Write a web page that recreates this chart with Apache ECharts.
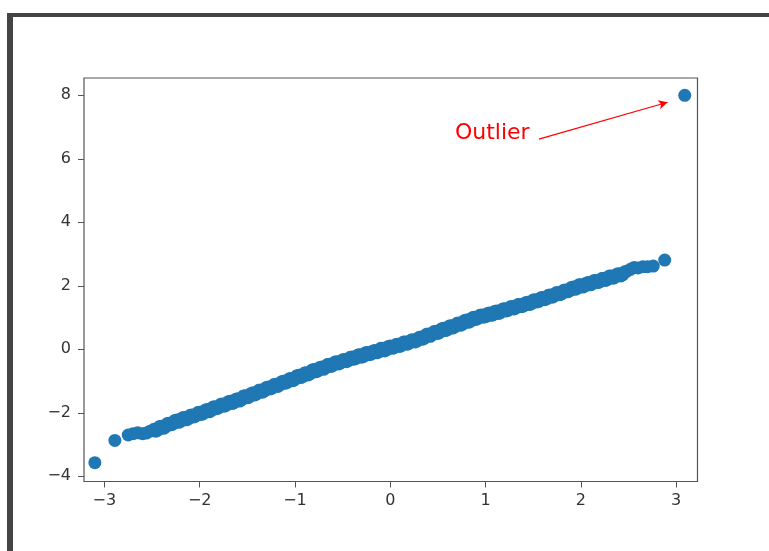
<!DOCTYPE html>
<html>
<head>
<meta charset="utf-8">
<script src="https://cdn.jsdelivr.net/npm/echarts@6/dist/echarts.min.js"></script>
<style>
html,body{margin:0;padding:0;background:#fff;}
#chart{width:769px;height:551px;}
</style>
</head>
<body>
<div id="chart"></div>
<script>
// Theoretical quantiles (x)
var theoretical = [
  -3.10,-2.89,-2.75,-2.70,-2.65,-2.60,-2.56,-2.52,
  -2.48,-2.44,-2.40,-2.36,-2.32,-2.28,-2.24,-2.20,-2.16,-2.12,
  -2.08,-2.04,-2.00,-1.96,-1.92,-1.88,-1.84,-1.80,-1.76,-1.72,
  -1.68,-1.64,-1.60,-1.56,-1.52,-1.48,-1.44,-1.40,-1.36,-1.32,
  -1.28,-1.24,-1.20,-1.16,-1.12,-1.08,-1.04,-1.00,-0.96,-0.92,
  -0.88,-0.84,-0.80,-0.76,-0.72,-0.68,-0.64,-0.60,-0.56,-0.52,
  -0.48,-0.44,-0.40,-0.36,-0.32,-0.28,-0.24,-0.20,-0.16,-0.12,
  -0.08,-0.04,
  0.00,0.04,0.08,0.12,0.16,0.20,0.24,0.28,0.32,0.36,
  0.40,0.44,0.48,0.52,0.56,0.60,0.64,0.68,0.72,0.76,
  0.80,0.84,0.88,0.92,0.96,1.00,1.04,1.08,1.12,1.16,
  1.20,1.24,1.28,1.32,1.36,1.40,1.44,1.48,1.52,1.56,
  1.60,1.64,1.68,1.72,1.76,1.80,1.84,1.88,1.92,1.96,
  2.00,2.04,2.08,2.12,2.16,2.20,2.24,2.28,2.32,2.36,
  2.40,2.44,2.48,
  2.52,2.56,2.60,2.65,2.70,2.76,2.88,3.09
];
// Sample values (y)
var sample = [
  -3.57,-2.87,-2.70,-2.66,-2.63,-2.66,-2.64,-2.58,
  -2.52,-2.55,-2.42,-2.45,-2.33,-2.35,-2.23,-2.27,-2.15,-2.19,
  -2.07,-2.10,-1.98,-2.02,-1.90,-1.93,-1.81,-1.84,-1.72,-1.76,
  -1.64,-1.68,-1.56,-1.59,-1.46,-1.50,-1.37,-1.40,-1.28,-1.31,
  -1.19,-1.22,-1.10,-1.13,-1.01,-1.04,-0.92,-0.95,-0.82,-0.86,
  -0.74,-0.77,-0.64,-0.68,-0.56,-0.59,-0.47,-0.51,-0.39,-0.43,
  -0.32,-0.36,-0.24,-0.29,-0.17,-0.22,-0.10,-0.15,-0.04,-0.08,
  0.03,-0.02,
  0.10,0.05,0.16,0.12,0.23,0.19,0.30,0.26,0.39,0.35,
  0.48,0.45,0.57,0.53,0.66,0.62,0.74,0.71,0.83,0.79,
  0.92,0.88,1.01,0.97,1.08,1.03,1.14,1.09,1.21,1.16,
  1.28,1.23,1.35,1.30,1.41,1.37,1.48,1.44,1.56,1.51,
  1.63,1.59,1.71,1.67,1.79,1.75,1.87,1.84,1.96,1.92,
  2.03,1.99,2.10,2.06,2.17,2.13,2.24,2.20,2.31,2.27,
  2.38,2.35,2.45,
  2.52,2.58,2.56,2.60,2.60,2.62,2.81,8.00
];
// Further points of the dense band (x, y)
var theoreticalFill = [
  -2.46,-2.42,-2.38,-2.34,-2.30,-2.26,-2.22,-2.18,-2.14,-2.10,
  -2.06,-2.02,-1.98,-1.94,-1.90,-1.86,-1.82,-1.78,-1.74,-1.70,
  -1.66,-1.62,-1.58,-1.54,-1.50,-1.46,-1.42,-1.38,-1.34,-1.30,
  -1.26,-1.22,-1.18,-1.14,-1.10,-1.06,-1.02,-0.98,-0.94,-0.90,
  -0.86,-0.82,-0.78,-0.74,-0.70,-0.66,-0.62,-0.58,-0.54,-0.50,
  -0.46,-0.42,-0.38,-0.34,-0.30,-0.26,-0.22,-0.18,-0.14,-0.10,
  -0.06,-0.02,
  0.02,0.06,0.10,0.14,0.18,0.22,0.26,0.30,0.34,0.38,
  0.42,0.46,0.50,0.54,0.58,0.62,0.66,0.70,0.74,0.78,
  0.82,0.86,0.90,0.94,0.98,1.02,1.06,1.10,1.14,1.18,
  1.22,1.26,1.30,1.34,1.38,1.42,1.46,1.50,1.54,1.58,
  1.62,1.66,1.70,1.74,1.78,1.82,1.86,1.90,1.94,1.98,
  2.02,2.06,2.10,2.14,2.18,2.22,2.26,2.30,2.34,2.38,
  2.42,2.46
];
var sampleFill = [
  -2.58,-2.43,-2.49,-2.34,-2.38,-2.24,-2.30,-2.16,-2.22,-2.08,
  -2.13,-1.99,-2.05,-1.91,-1.97,-1.82,-1.87,-1.73,-1.79,-1.65,
  -1.71,-1.57,-1.63,-1.47,-1.53,-1.39,-1.44,-1.29,-1.35,-1.20,
  -1.25,-1.11,-1.17,-1.02,-1.07,-0.93,-0.99,-0.83,-0.89,-0.75,
  -0.81,-0.65,-0.71,-0.57,-0.63,-0.48,-0.54,-0.40,-0.46,-0.33,
  -0.39,-0.25,-0.31,-0.18,-0.25,-0.11,-0.17,-0.05,-0.11,0.03,
  -0.05,0.09,
  0.03,0.15,0.09,0.23,0.16,0.29,0.23,0.37,0.32,0.47,
  0.41,0.56,0.50,0.65,0.59,0.73,0.67,0.82,0.76,0.91,
  0.85,0.99,0.94,1.07,1.01,1.13,1.07,1.20,1.13,1.27,
  1.21,1.34,1.27,1.41,1.34,1.47,1.41,1.55,1.49,1.62,
  1.56,1.70,1.64,1.78,1.72,1.86,1.81,1.95,1.89,2.03,
  1.96,2.09,2.03,2.17,2.10,2.23,2.17,2.31,2.24,2.37,
  2.31,2.44
];
var xTicks = [-3,-2,-1,0,1,2,3];
var yTicks = [-4,-2,0,2,4,6,8];
var annotationText = 'Outlier';
var arrowFrom = [1.56, 6.62];
var arrowTo = [2.91, 7.78];
var textAt = [1.07, 6.81];

var points = theoretical.map(function(x, i){ return [x, sample[i]]; })
  .concat(theoreticalFill.map(function(x, i){ return [x, sampleFill[i]]; }));

function fmt(v){ return String(v).replace('-', '\u2212'); }

var chart = echarts.init(document.getElementById('chart'), null, {renderer:'canvas'});
chart.setOption({
  animation:false,
  backgroundColor:'#ffffff',
  graphic:[
    {type:'rect', shape:{x:7, y:13, width:762, height:4}, style:{fill:'#444444'}, silent:true},
    {type:'rect', shape:{x:7, y:13, width:6, height:538}, style:{fill:'#444444'}, silent:true}
  ],
  grid:{
    left:84, right:71.5, top:78, bottom:69.5,
    show:true, borderColor:'#555555', borderWidth:1.2, backgroundColor:'#ffffff',
    outerBoundsMode:'none', containLabel:false
  },
  xAxis:{
    type:'value', min:-3.214, max:3.224,
    axisLine:{show:false, onZero:false},
    splitLine:{show:false},
    axisTick:{show:true, length:6, customValues:xTicks, lineStyle:{color:'#555555', width:1}},
    axisLabel:{show:true, customValues:xTicks, margin:11, color:'#333333',
      fontFamily:'DejaVu Sans', fontSize:16, formatter:fmt}
  },
  yAxis:{
    type:'value', min:-4.164, max:8.545,
    axisLine:{show:false, onZero:false},
    splitLine:{show:false},
    axisTick:{show:true, length:6, customValues:yTicks, lineStyle:{color:'#555555', width:1}},
    axisLabel:{show:true, customValues:yTicks, margin:13, color:'#333333',
      fontFamily:'DejaVu Sans', fontSize:16, formatter:fmt}
  },
  series:[{
    type:'scatter',
    data:points,
    symbol:'circle',
    symbolSize:13,
    itemStyle:{color:'#1f77b4', opacity:1},
    clip:false,
    silent:true,
    markLine:{
      silent:true,
      symbol:['none','arrow'],
      symbolSize:[7,9],
      label:{show:false},
      lineStyle:{color:'#ff0000', width:1.2, type:'solid'},
      data:[[{coord:arrowFrom},{coord:arrowTo}]]
    },
    markPoint:{
      silent:true,
      symbol:'circle',
      symbolSize:1,
      itemStyle:{color:'rgba(0,0,0,0)'},
      label:{show:true, position:'inside', formatter:annotationText, color:'#ff0000',
        fontFamily:'DejaVu Sans', fontSize:22},
      data:[{coord:textAt}]
    }
  }]
});
</script>
</body>
</html>
